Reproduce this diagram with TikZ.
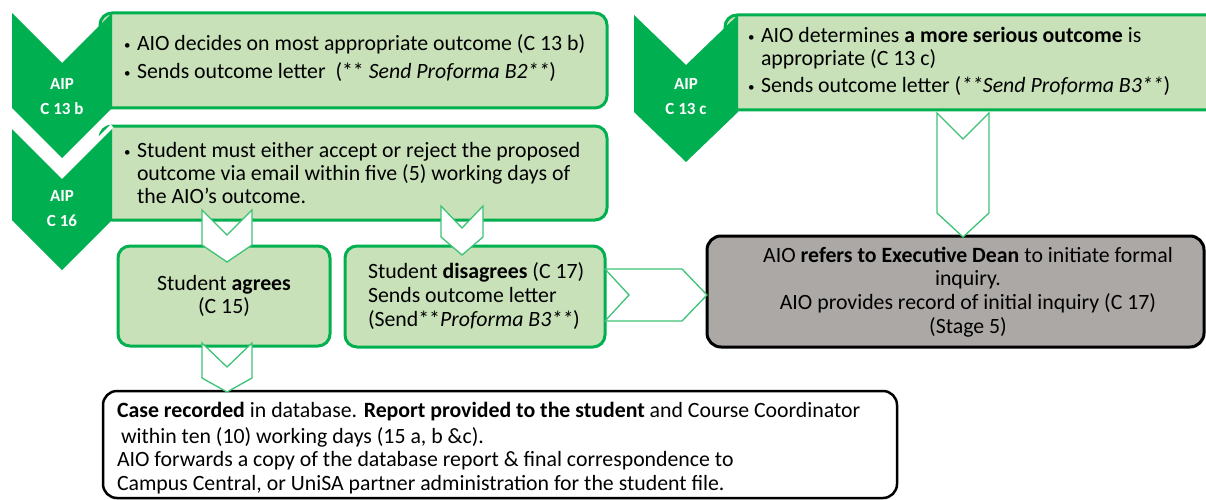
\documentclass[tikz,border=0pt]{standalone}
\usepackage{fontspec}
\setmainfont{Carlito}
\definecolor{dkgreen}{HTML}{00B050}
\definecolor{ltgreen}{HTML}{C8E1B9}
\definecolor{argreen}{HTML}{3EC276}
\definecolor{grayfill}{HTML}{ACA8A6}
\newcommand\dchev[6]{\path[#1] (#2-#4,#3) -- (#2,#3+#5) -- (#2+#4,#3) -- (#2+#4,#6) -- (#2,#6+#5) -- (#2-#4,#6) -- cycle;}
\newcommand\dchevb[7]{\path[#1] (#2-#4,#3) -- (#2,#3+#5) -- (#2+#4,#3) -- (#2+#4,#6) -- (#2,#6+#7) -- (#2-#4,#6) -- cycle;}
\begin{document}
\begin{tikzpicture}[x=1pt,y=-1pt,
  every node/.style={inner sep=0pt,outer sep=0pt},
  txt/.style={anchor=base west,font=\fontsize{21.8}{23}\selectfont},
  ctxt/.style={anchor=base,font=\fontsize{21.8}{23}\selectfont},
  btxt/.style={anchor=base west,font=\fontsize{21.8}{23}\selectfont},
  bul/.style={anchor=base west,font=\fontsize{13}{13}\selectfont},
  lbl/.style={anchor=base,text=white,font=\bfseries\fontsize{17}{18}\selectfont},
  chev/.style={fill=dkgreen},
  gbox/.style={draw=dkgreen,fill=ltgreen,line width=3pt,rounded corners=12pt,anchor=north west},
  kbox/.style={draw=black,line width=3pt,rounded corners=14pt,anchor=north west},
  arr/.style={draw=argreen,fill=white,line width=1.3pt,line join=miter},
]
\useasboundingbox[fill=white] (0,0) rectangle (1206,500);
% ---- top-left block
\node[gbox,minimum width=507pt,minimum height=95pt] (b1) at (100,13) {};
\dchev{chev}{62}{13}{50}{50}{108}
\node[lbl] (l1a) at (62,90) {AIP};
\node[lbl] (l1b) at (62,114) {C 13 b};
\node[bul] (u1a) at (124,50) {•};
\node[txt] (t1a) at (137,51) {AIO decides on most appropriate outcome (C 13 b)};
\node[bul] (u1b) at (124,78) {•};
\node[txt] (t1b) at (137,79) {Sends outcome letter\ \ (** \textit{Send Proforma B2**})};
% ---- second block
\node[gbox,minimum width=507pt,minimum height=94pt] (b2) at (100,126) {};
\dchev{chev}{62}{126}{50}{50}{220}
\draw[white,line width=4pt] (12,126) -- (62,176) -- (112,126);
\node[lbl] (l2a) at (62,201) {AIP};
\node[lbl] (l2b) at (62,226) {C 16};
\node[bul] (u2a) at (124,156) {•};
\node[txt] (t2a) at (137,157) {Student must either accept or reject the proposed};
\node[txt] (t2b) at (137,180) {outcome via email within five (5) working days of};
\node[txt] (t2c) at (137,203) {the AIO’s outcome.};
% ---- top-right block
\node[gbox,minimum width=505pt,minimum height=95pt] (b3) at (725,15) {};
\dchev{chev}{686}{15}{52}{50}{112}
\node[lbl] (l3a) at (686,90) {AIP};
\node[lbl] (l3b) at (686,114) {C 13 c};
\node[bul] (u3a) at (748,42) {•};
\node[txt] (t3a) at (761,43) {AIO determines \textbf{a more serious outcome} is};
\node[txt] (t3b) at (761,66) {appropriate (C 13 c)};
\node[bul] (u3b) at (748,92) {•};
\node[txt] (t3c) at (761,93) {Sends outcome letter (\textit{**Send Proforma B3**})};
% ---- middle boxes
\node[gbox,minimum width=212pt,minimum height=100pt] (agree) at (118,246) {};
\node[ctxt] (ta1) at (224,290) {Student \textbf{agrees}};
\node[ctxt] (ta2) at (224,313) {(C 15)};
\node[gbox,minimum width=260pt,minimum height=101pt] (dis) at (345,246) {};
\node[txt] (td1) at (368,278) {Student \textbf{disagrees} (C 17)};
\node[txt] (td2) at (368,302) {Sends outcome letter};
\node[txt] (td3) at (368,326) {(Send**\textit{Proforma B3**})};
\node[kbox,fill=grayfill,minimum width=497pt,minimum height=111pt] (dean) at (707,236) {};
\node[ctxt] (tg1) at (968,262) {AIO \textbf{refers to Executive Dean} to initiate formal};
\node[ctxt] (tg2) at (968,285) {inquiry.};
\node[ctxt] (tg3) at (968,309) {AIO provides record of initial inquiry (C 17)};
\node[ctxt] (tg4) at (968,333) {(Stage 5)};
% ---- bottom box
\node[kbox,fill=white,line width=2.5pt,minimum width=794pt,minimum height=107pt] (rec) at (103,391) {};
\node[btxt] (tr1) at (117,417) {\textbf{Case recorded} in database. \textbf{Report provided to the student} and Course Coordinator};
\node[btxt] (tr2) at (121,443) {within ten (10) working days (15 a, b \&c).};
\node[btxt] (tr3) at (117,466) {AIO forwards a copy of the database report \& final correspondence to};
\node[btxt] (tr4) at (117,490) {Campus Central, or UniSA partner administration for the student file.};
% ---- outline chevron connectors
\dchevb{arr}{227}{210}{25}{25}{245}{17}
\dchevb{arr}{462}{206}{21}{22}{237}{18}
\dchevb{arr}{227}{343}{25}{24}{378}{14}
\dchevb{arr}{963}{113}{26}{26}{213}{24}
\path[arr] (605,269) -- (682,269) -- (707,295) -- (682,321) -- (605,321) -- (629,295) -- cycle;
\end{tikzpicture}
\end{document}
